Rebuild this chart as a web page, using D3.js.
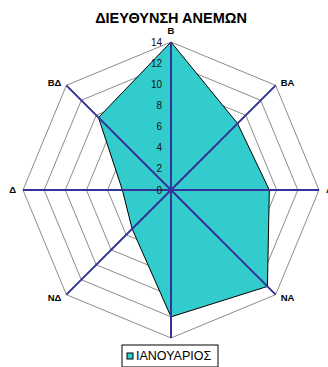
<!DOCTYPE html>
<html>
<head>
<meta charset="utf-8">
<script src="https://cdn.jsdelivr.net/npm/d3@7"></script>
<style>
  html, body { margin: 0; padding: 0; background: #fff; }
  svg { display: block; font-family: "Liberation Sans", Arial, sans-serif; }
</style>
</head>
<body>
<svg id="chart" width="328" height="367"></svg>
<script>
// Wind directions, clockwise from north
const directions = ["Β", "ΒΑ", "Α", "ΝΑ", "Ν", "ΝΔ", "Δ", "ΒΔ"];
// January wind frequencies per direction
const january = [14, 8.9, 9.3, 12.9, 12, 5.2, 4.6, 9.7];
// Radial tick values
const ticks = [0, 2, 4, 6, 8, 10, 12, 14];
const seriesName = "ΙΑΝΟΥΑΡΙΟΣ";
const title = "ΔΙΕΥΘΥΝΣΗ ΑΝΕΜΩΝ";

const svg = d3.select("#chart");
const cx = 171, cy = 190, R = 148;

const r = d3.scaleLinear().domain([0, 14]).range([0, R]);
const angle = d3.scaleLinear().domain([0, directions.length]).range([0, 2 * Math.PI]);

const g = svg.append("g").attr("transform", `translate(${cx},${cy})`);

const radial = d3.lineRadial().curve(d3.curveLinearClosed);

// Octagonal grid rings
g.append("g").selectAll("path")
  .data(ticks.filter(t => t > 0))
  .join("path")
  .attr("d", t => radial(directions.map((d, i) => [angle(i), r(t)])))
  .attr("fill", "none")
  .attr("stroke", "#8c8c8c")
  .attr("stroke-width", 1);

// Series area
g.append("path")
  .attr("d", radial(january.map((v, i) => [angle(i), r(v)])))
  .attr("fill", "#33cccc")
  .attr("stroke", "#000")
  .attr("stroke-width", 1)
  .attr("stroke-linejoin", "miter");

// Direction spokes
g.append("g").selectAll("line")
  .data(directions)
  .join("line")
  .attr("x1", 0).attr("y1", 0)
  .attr("x2", (d, i) => r(14) * Math.sin(angle(i)))
  .attr("y2", (d, i) => -r(14) * Math.cos(angle(i)))
  .attr("stroke", "#333399")
  .attr("stroke-width", 2);

// Radial tick labels along the north spoke
g.append("g").selectAll("text")
  .data(ticks)
  .join("text")
  .attr("x", -9)
  .attr("y", t => -r(t))
  .attr("dy", "0.35em")
  .attr("text-anchor", "end")
  .attr("font-size", 10)
  .attr("fill", "#111")
  .text(t => t);

// Direction labels
g.append("g").selectAll("text")
  .data(directions)
  .join("text")
  .each(function(d, i) {
    const a = angle(i);
    const s = Math.sin(a), c = Math.cos(a);
    const x = r(14) * s, y = -r(14) * c;
    const t = d3.select(this);
    if (Math.abs(s) < 1e-6) {
      t.attr("x", x).attr("y", c > 0 ? y - 11 : y + 14).attr("text-anchor", "middle");
    } else {
      const dx = Math.abs(c) < 1e-6 ? 7 : 5;
      const dy = Math.abs(c) < 1e-6 ? 0 : (c > 0 ? -3 : 3);
      t.attr("x", x + (s > 0 ? dx : -dx))
       .attr("y", y + dy)
       .attr("text-anchor", s > 0 ? "start" : "end");
    }
  })
  .attr("dy", "0.35em")
  .attr("font-size", 9.5)
  .attr("font-weight", "bold")
  .attr("fill", "#000")
  .text(d => d);

// Title
svg.append("text")
  .attr("x", cx)
  .attr("y", 23)
  .attr("text-anchor", "middle")
  .attr("font-size", 14.5)
  .attr("font-weight", "bold")
  .attr("fill", "#000")
  .text(title);

// Legend
const legend = svg.append("g").attr("transform", "translate(122,345)");
legend.append("rect")
  .attr("x", 0).attr("y", 0).attr("width", 96).attr("height", 22)
  .attr("fill", "#fff").attr("stroke", "#000").attr("stroke-width", 1);
legend.append("rect")
  .attr("x", 5).attr("y", 8).attr("width", 6).attr("height", 6)
  .attr("fill", "#33cccc").attr("stroke", "#000").attr("stroke-width", 1);
legend.append("text")
  .attr("x", 14).attr("y", 11)
  .attr("dy", "0.35em")
  .attr("font-size", 12.5)
  .attr("fill", "#000")
  .text(seriesName);
</script>
</body>
</html>
